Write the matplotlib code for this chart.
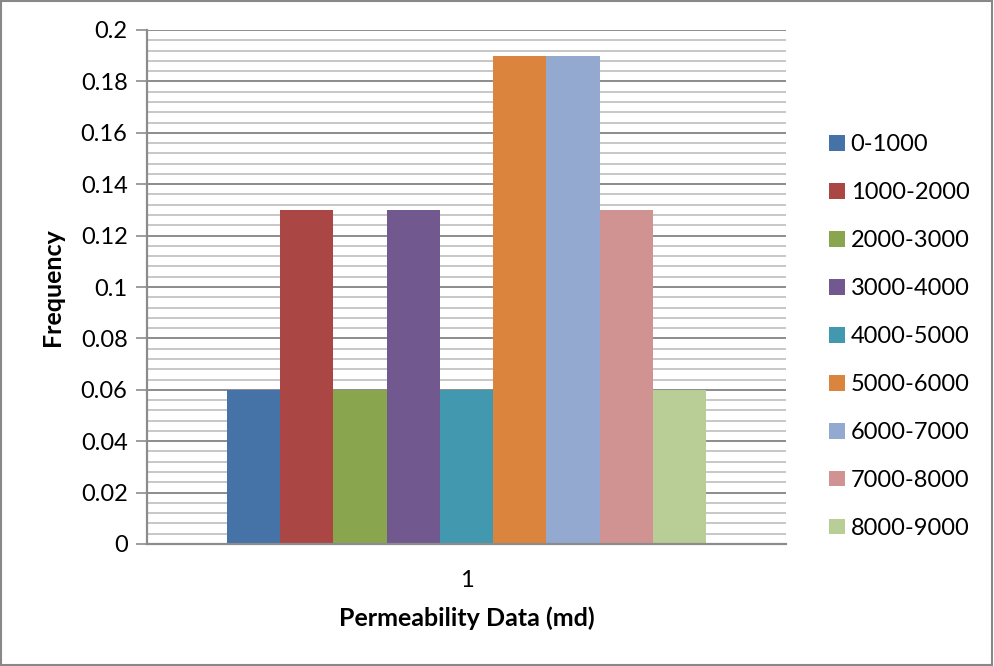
import matplotlib
matplotlib.use("Agg")
import matplotlib.pyplot as plt
import numpy as np
from matplotlib.patches import Rectangle

categories = ["1"]
series_names = ["0-1000", "1000-2000", "2000-3000", "3000-4000", "4000-5000",
                "5000-6000", "6000-7000", "7000-8000", "8000-9000"]
values = [0.06, 0.13, 0.06, 0.13, 0.06, 0.19, 0.19, 0.13, 0.06]
colors = ["#4572A7", "#AA4643", "#89A54E", "#71588F", "#4198AF",
          "#DB843D", "#93A9CF", "#D19392", "#B9CD96"]
yticks = [0, 0.02, 0.04, 0.06, 0.08, 0.1, 0.12, 0.14, 0.16, 0.18, 0.2]
ytick_labels = ["0", "0.02", "0.04", "0.06", "0.08", "0.1", "0.12", "0.14", "0.16", "0.18", "0.2"]

plt.rcParams['font.family'] = ['Lato', 'DejaVu Sans']

fig = plt.figure(figsize=(9.94, 6.66), dpi=100)
ax = fig.add_axes([147/994, 1-544/666, (786-147)/994, (544-30)/666])

n = len(series_names)
group = 0.75
w = group / n
x0 = 0
for i, (name, v, c) in enumerate(zip(series_names, values, colors)):
    ax.bar(x0 - group/2 + w*(i+0.5), v, width=w, color=c, label=name, zorder=3)

ax.set_xlim(-0.5, 0.5)
ax.set_ylim(0, 0.2)
ax.set_xticks([0])
ax.set_xticklabels(categories, fontsize=17)
ax.set_yticks(yticks)
ax.set_yticklabels(ytick_labels, fontsize=17)
ax.set_yticks(np.arange(0, 0.2001, 0.004), minor=True)
ax.grid(axis='y', which='major', color='#8C8C8C', linewidth=1.4, zorder=0)
ax.grid(axis='y', which='minor', color='#BEBEBE', linewidth=1.2, zorder=0)
ax.tick_params(axis='y', which='major', length=8, color='#8C8C8C', width=1.2, pad=6)
ax.tick_params(axis='y', which='minor', length=0)
ax.tick_params(axis='x', length=0, pad=19)
for s in ['top', 'right']:
    ax.spines[s].set_visible(False)
for s in ['left', 'bottom']:
    ax.spines[s].set_color('#8C8C8C')
    ax.spines[s].set_linewidth(1.6)
    ax.spines[s].set_zorder(4)

ax.set_ylabel("Frequency", fontsize=18, fontweight='bold', labelpad=12)
ax.set_xlabel("Permeability Data (md)", fontsize=18, fontweight='bold', labelpad=11)

leg = fig.legend(loc='upper left', bbox_to_anchor=(820/994, 1-125/666), frameon=False,
                 fontsize=17, handlelength=0.65, handleheight=0.65, handletextpad=0.25,
                 labelspacing=1.14, borderaxespad=0)

fig.patches.append(Rectangle((0.001, 0.001), 0.997, 0.997, transform=fig.transFigure,
                             fill=False, edgecolor='#888888', linewidth=1.5))

fig.savefig("out.png", dpi=100)
